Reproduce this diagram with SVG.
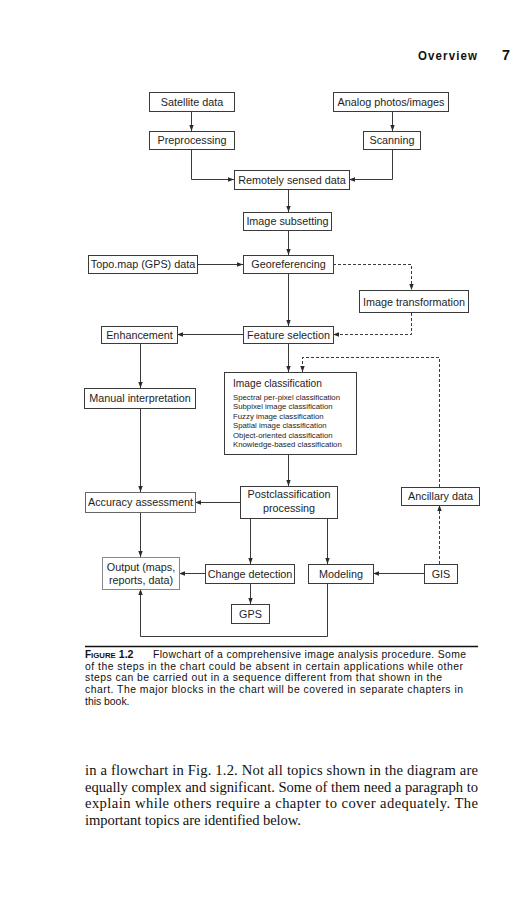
<svg xmlns="http://www.w3.org/2000/svg" width="529" height="900" viewBox="0 0 529 900">
<style>
.box{fill:#fff;stroke:#3a3a3a;stroke-width:1}
.lbl{font-family:"Liberation Sans",Arial,sans-serif;font-size:10.8px;fill:#1e1e1e;text-anchor:middle}
.small{font-family:"Liberation Sans",Arial,sans-serif;font-size:7.8px;fill:#1e1e1e}
.ln{fill:none;stroke:#3a3a3a;stroke-width:1}
.dash{fill:none;stroke:#3a3a3a;stroke-width:1;stroke-dasharray:3 2}
.cap{font-family:"Liberation Sans",Arial,sans-serif;font-size:10.4px;fill:#111}
.body{font-family:"Liberation Serif","Times New Roman",serif;font-size:14.6px;fill:#111}
</style>
<defs>
<marker id="ah" markerUnits="userSpaceOnUse" markerWidth="6" markerHeight="6" viewBox="0 0 6 6" refX="6" refY="3" orient="auto">
<path d="M0,0.8 L6,3 L0,5.2 Z" fill="#2a2a2a"/>
</marker>
</defs>
<rect width="529" height="900" fill="#fff"/>

<g id="header">
<text x="418" y="60" font-family="'Liberation Sans',sans-serif" font-weight="bold" font-size="11.5" fill="#111" textLength="59" lengthAdjust="spacing" transform="translate(418 60) scale(1 1.15) translate(-418 -60)">Overview</text>
<text x="502" y="60" font-family="'Liberation Sans',sans-serif" font-weight="bold" font-size="15" fill="#111" textLength="8" lengthAdjust="spacingAndGlyphs">7</text>
</g>

<g id="connectors">
<path class="ln" d="M191.5,111 V131" marker-end="url(#ah)"/>
<path class="ln" d="M392.5,111 V131" marker-end="url(#ah)"/>
<path class="ln" d="M191.5,149 V179.5 H234" marker-end="url(#ah)"/>
<path class="ln" d="M392.5,149 V179.5 H349" marker-end="url(#ah)"/>
<path class="ln" d="M288.5,189 V212" marker-end="url(#ah)"/>
<path class="ln" d="M288.5,230 V255" marker-end="url(#ah)"/>
<path class="ln" d="M197,264.5 H243" marker-end="url(#ah)"/>
<path class="dash" d="M333,264.5 H411.5 V290" marker-end="url(#ah)"/>
<path class="dash" d="M411.5,313 V334.5 H333" marker-end="url(#ah)"/>
<path class="ln" d="M288.5,273 V326" marker-end="url(#ah)"/>
<path class="ln" d="M243,334.5 H177" marker-end="url(#ah)"/>
<path class="ln" d="M140.5,343 V388" marker-end="url(#ah)"/>
<path class="ln" d="M288.5,343 V372" marker-end="url(#ah)"/>
<path class="dash" d="M439.5,487 V357.5 H302.5 V372" marker-end="url(#ah)"/>
<path class="ln" d="M140.5,408 V492" marker-end="url(#ah)"/>
<path class="ln" d="M288.5,454 V486" marker-end="url(#ah)"/>
<path class="ln" d="M240,502.5 H195" marker-end="url(#ah)"/>
<path class="ln" d="M140.5,512 V557" marker-end="url(#ah)"/>
<path class="ln" d="M250.5,518 V564" marker-end="url(#ah)"/>
<path class="ln" d="M327.5,518 V564" marker-end="url(#ah)"/>
<path class="ln" d="M205,573.5 H179" marker-end="url(#ah)"/>
<path class="ln" d="M424,573.5 H373" marker-end="url(#ah)"/>
<path class="dash" d="M439.5,564 V505" marker-end="url(#ah)"/>
<path class="ln" d="M250.5,583 V604" marker-end="url(#ah)"/>
<path class="ln" d="M327.5,583 V636.5 H140.5 V589" marker-end="url(#ah)"/>
</g>

<g id="satellite"><rect class="box" x="149.5" y="92.5" width="85" height="19"/><text class="lbl" x="192" y="105.5">Satellite data</text></g>
<g id="preprocessing"><rect class="box" x="149.5" y="131.5" width="85" height="18"/><text class="lbl" x="192" y="144">Preprocessing</text></g>
<g id="analog"><rect class="box" x="333.5" y="92.5" width="115" height="19"/><text class="lbl" x="391" y="105.5">Analog photos/images</text></g>
<g id="scanning"><rect class="box" x="363.5" y="131.5" width="57" height="18"/><text class="lbl" x="392" y="144">Scanning</text></g>
<g id="rsd"><rect class="box" x="234.5" y="170.5" width="115" height="19"/><text class="lbl" x="292" y="183.5">Remotely sensed data</text></g>
<g id="subsetting"><rect class="box" x="243.5" y="212.5" width="88" height="18"/><text class="lbl" x="287.5" y="225">Image subsetting</text></g>
<g id="georef"><rect class="box" x="243.5" y="255.5" width="90" height="18"/><text class="lbl" x="288.5" y="268">Georeferencing</text></g>
<g id="topo"><rect class="box" x="88.5" y="255.5" width="109" height="18"/><text class="lbl" x="143" y="268">Topo.map (GPS) data</text></g>
<g id="imgtrans"><rect class="box" x="359.5" y="290.5" width="109" height="22"/><text class="lbl" x="414" y="305.5">Image transformation</text></g>
<g id="feature"><rect class="box" x="243.5" y="326.5" width="90" height="17"/><text class="lbl" x="288.5" y="338.5">Feature selection</text></g>
<g id="enhancement"><rect class="box" x="101.5" y="326.5" width="76" height="17"/><text class="lbl" x="139.5" y="338.5">Enhancement</text></g>
<g id="classification"><rect class="box" x="224.5" y="372.5" width="132" height="82" stroke-width="1.3"/>
<text x="233" y="387" font-family="'Liberation Sans',Arial,sans-serif" font-size="10.2" fill="#1e1e1e">Image classification</text>
<text class="small" x="233" y="400">Spectral per-pixel classification</text>
<text class="small" x="233" y="409.4">Subpixel image classification</text>
<text class="small" x="233" y="418.8">Fuzzy image classification</text>
<text class="small" x="233" y="428.2">Spatial image classification</text>
<text class="small" x="233" y="437.6">Object-oriented classification</text>
<text class="small" x="233" y="447">Knowledge-based classification</text>
</g>
<g id="manual"><rect class="box" x="84.5" y="388.5" width="111" height="20"/><text class="lbl" x="140" y="402">Manual interpretation</text></g>
<g id="accuracy"><rect class="box" x="85.5" y="492.5" width="110" height="20" style="stroke:#666"/><text class="lbl" x="140.5" y="506">Accuracy assessment</text></g>
<g id="postclass"><rect class="box" x="240.5" y="486.5" width="97" height="32"/><text class="lbl" x="289" y="497.5">Postclassification</text><text class="lbl" x="289" y="512">processing</text></g>
<g id="ancillary"><rect class="box" x="401.5" y="487.5" width="78" height="18"/><text class="lbl" x="440.5" y="500">Ancillary data</text></g>
<g id="output"><rect class="box" x="102.5" y="557.5" width="77" height="32" style="stroke:#888"/><text class="lbl" x="141" y="571">Output (maps,</text><text class="lbl" x="141" y="584">reports, data)</text></g>
<g id="change"><rect class="box" x="205.5" y="564.5" width="89" height="19"/><text class="lbl" x="250" y="577.5">Change detection</text></g>
<g id="modeling"><rect class="box" x="308.5" y="564.5" width="65" height="19"/><text class="lbl" x="341" y="577.5">Modeling</text></g>
<g id="gis"><rect class="box" x="424.5" y="564.5" width="33" height="19"/><text class="lbl" x="441" y="577.5">GIS</text></g>
<g id="gps"><rect class="box" x="231.5" y="604.5" width="38" height="19"/><text class="lbl" x="250.5" y="617.5">GPS</text></g>

<g id="caption">
<line x1="85" y1="646.5" x2="478" y2="646.5" stroke="#111" stroke-width="1.5"/>
<text class="cap" x="85" y="658" font-weight="bold"><tspan font-size="10">F</tspan><tspan font-size="7.8">IGURE</tspan><tspan font-size="10.6"> 1.2</tspan></text>
<text class="cap" x="153" y="658" textLength="313" lengthAdjust="spacing">Flowchart of a comprehensive image analysis procedure. Some</text>
<text class="cap" x="85" y="669.7" textLength="378" lengthAdjust="spacing">of the steps in the chart could be absent in certain applications while other</text>
<text class="cap" x="85" y="681.4" textLength="357" lengthAdjust="spacing">steps can be carried out in a sequence different from that shown in the</text>
<text class="cap" x="85" y="693.1" textLength="378" lengthAdjust="spacing">chart. The major blocks in the chart will be covered in separate chapters in</text>
<text class="cap" x="85" y="704.8">this book.</text>
</g>

<g id="bodytext">
<text class="body" x="85" y="775" textLength="393" lengthAdjust="spacing">in a flowchart in Fig. 1.2. Not all topics shown in the diagram are</text>
<text class="body" x="85" y="791.5" textLength="393" lengthAdjust="spacing">equally complex and significant. Some of them need a paragraph to</text>
<text class="body" x="85" y="808" textLength="393" lengthAdjust="spacing">explain while others require a chapter to cover adequately. The</text>
<text class="body" x="85" y="824.5" textLength="216" lengthAdjust="spacing">important topics are identified below.</text>
</g>
</svg>
